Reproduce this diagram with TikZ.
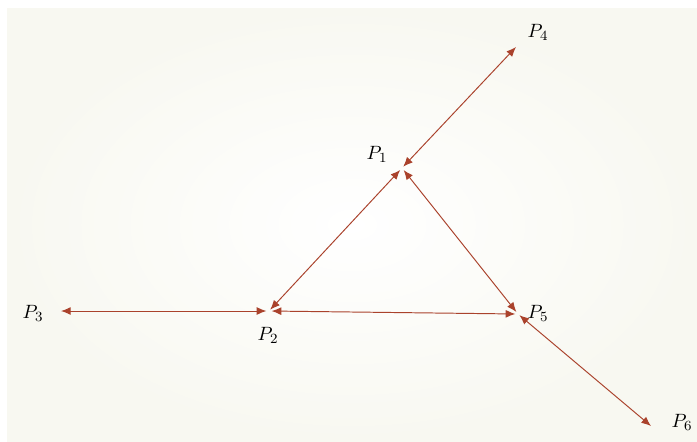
\documentclass[tikz,border=0pt]{standalone}
\usepackage{tikz}
\usetikzlibrary{arrows.meta}
\usepackage{xcolor}
\definecolor{linkred}{RGB}{170,66,44}
\definecolor{paperbg}{RGB}{248,248,241}

\begin{document}
\begin{tikzpicture}[x=0.02cm, y=-0.02cm,
        link/.style={draw=linkred, line width=0.55pt, {Latex[length=5.5pt,width=4.5pt]}-{Latex[length=5.5pt,width=4.5pt]}},
        plabel/.style={font=\fontsize{11}{13}\selectfont, inner sep=1pt}]
        \useasboundingbox (0,0) rectangle (697,441);
        \fill[white] (0,0) rectangle (697,441);
        \shade[inner color=white, outer color=paperbg] (7,8) rectangle (697,441);

        % points
        \coordinate (p1) at (402,168);
        \coordinate (p2) at (269,311);
        \coordinate (p3) at (61,311);
        \coordinate (p4) at (516,47);
        \coordinate (p5) at (518,314);
        \coordinate (p6) at (651,426);

        % labels
        \node[plabel] (l1) at (377,154) {$P_1$};
        \node[plabel] (l2) at (268,335) {$P_2$};
        \node[plabel] (l3) at (33,313) {$P_3$};
        \node[plabel] (l4) at (538,32) {$P_4$};
        \node[plabel] (l5) at (538,313) {$P_5$};
        \node[plabel] (l6) at (682,422) {$P_6$};

        % links
        \draw[link, shorten <=1pt] (p1) -- (p4);
        \draw[link, shorten <=1.5pt, shorten >=1pt] (p1) -- (p2);
        \draw[link, shorten <=1.5pt, shorten >=1.5pt] (p1) -- (p5);
        \draw[link, shorten <=1.5pt] (p2) -- (p3);
        \draw[link, shorten <=1.5pt, shorten >=1.5pt] (p2) -- (p5);
        \draw[link, shorten <=1pt] (p5) -- (p6);
\end{tikzpicture}
\end{document}
